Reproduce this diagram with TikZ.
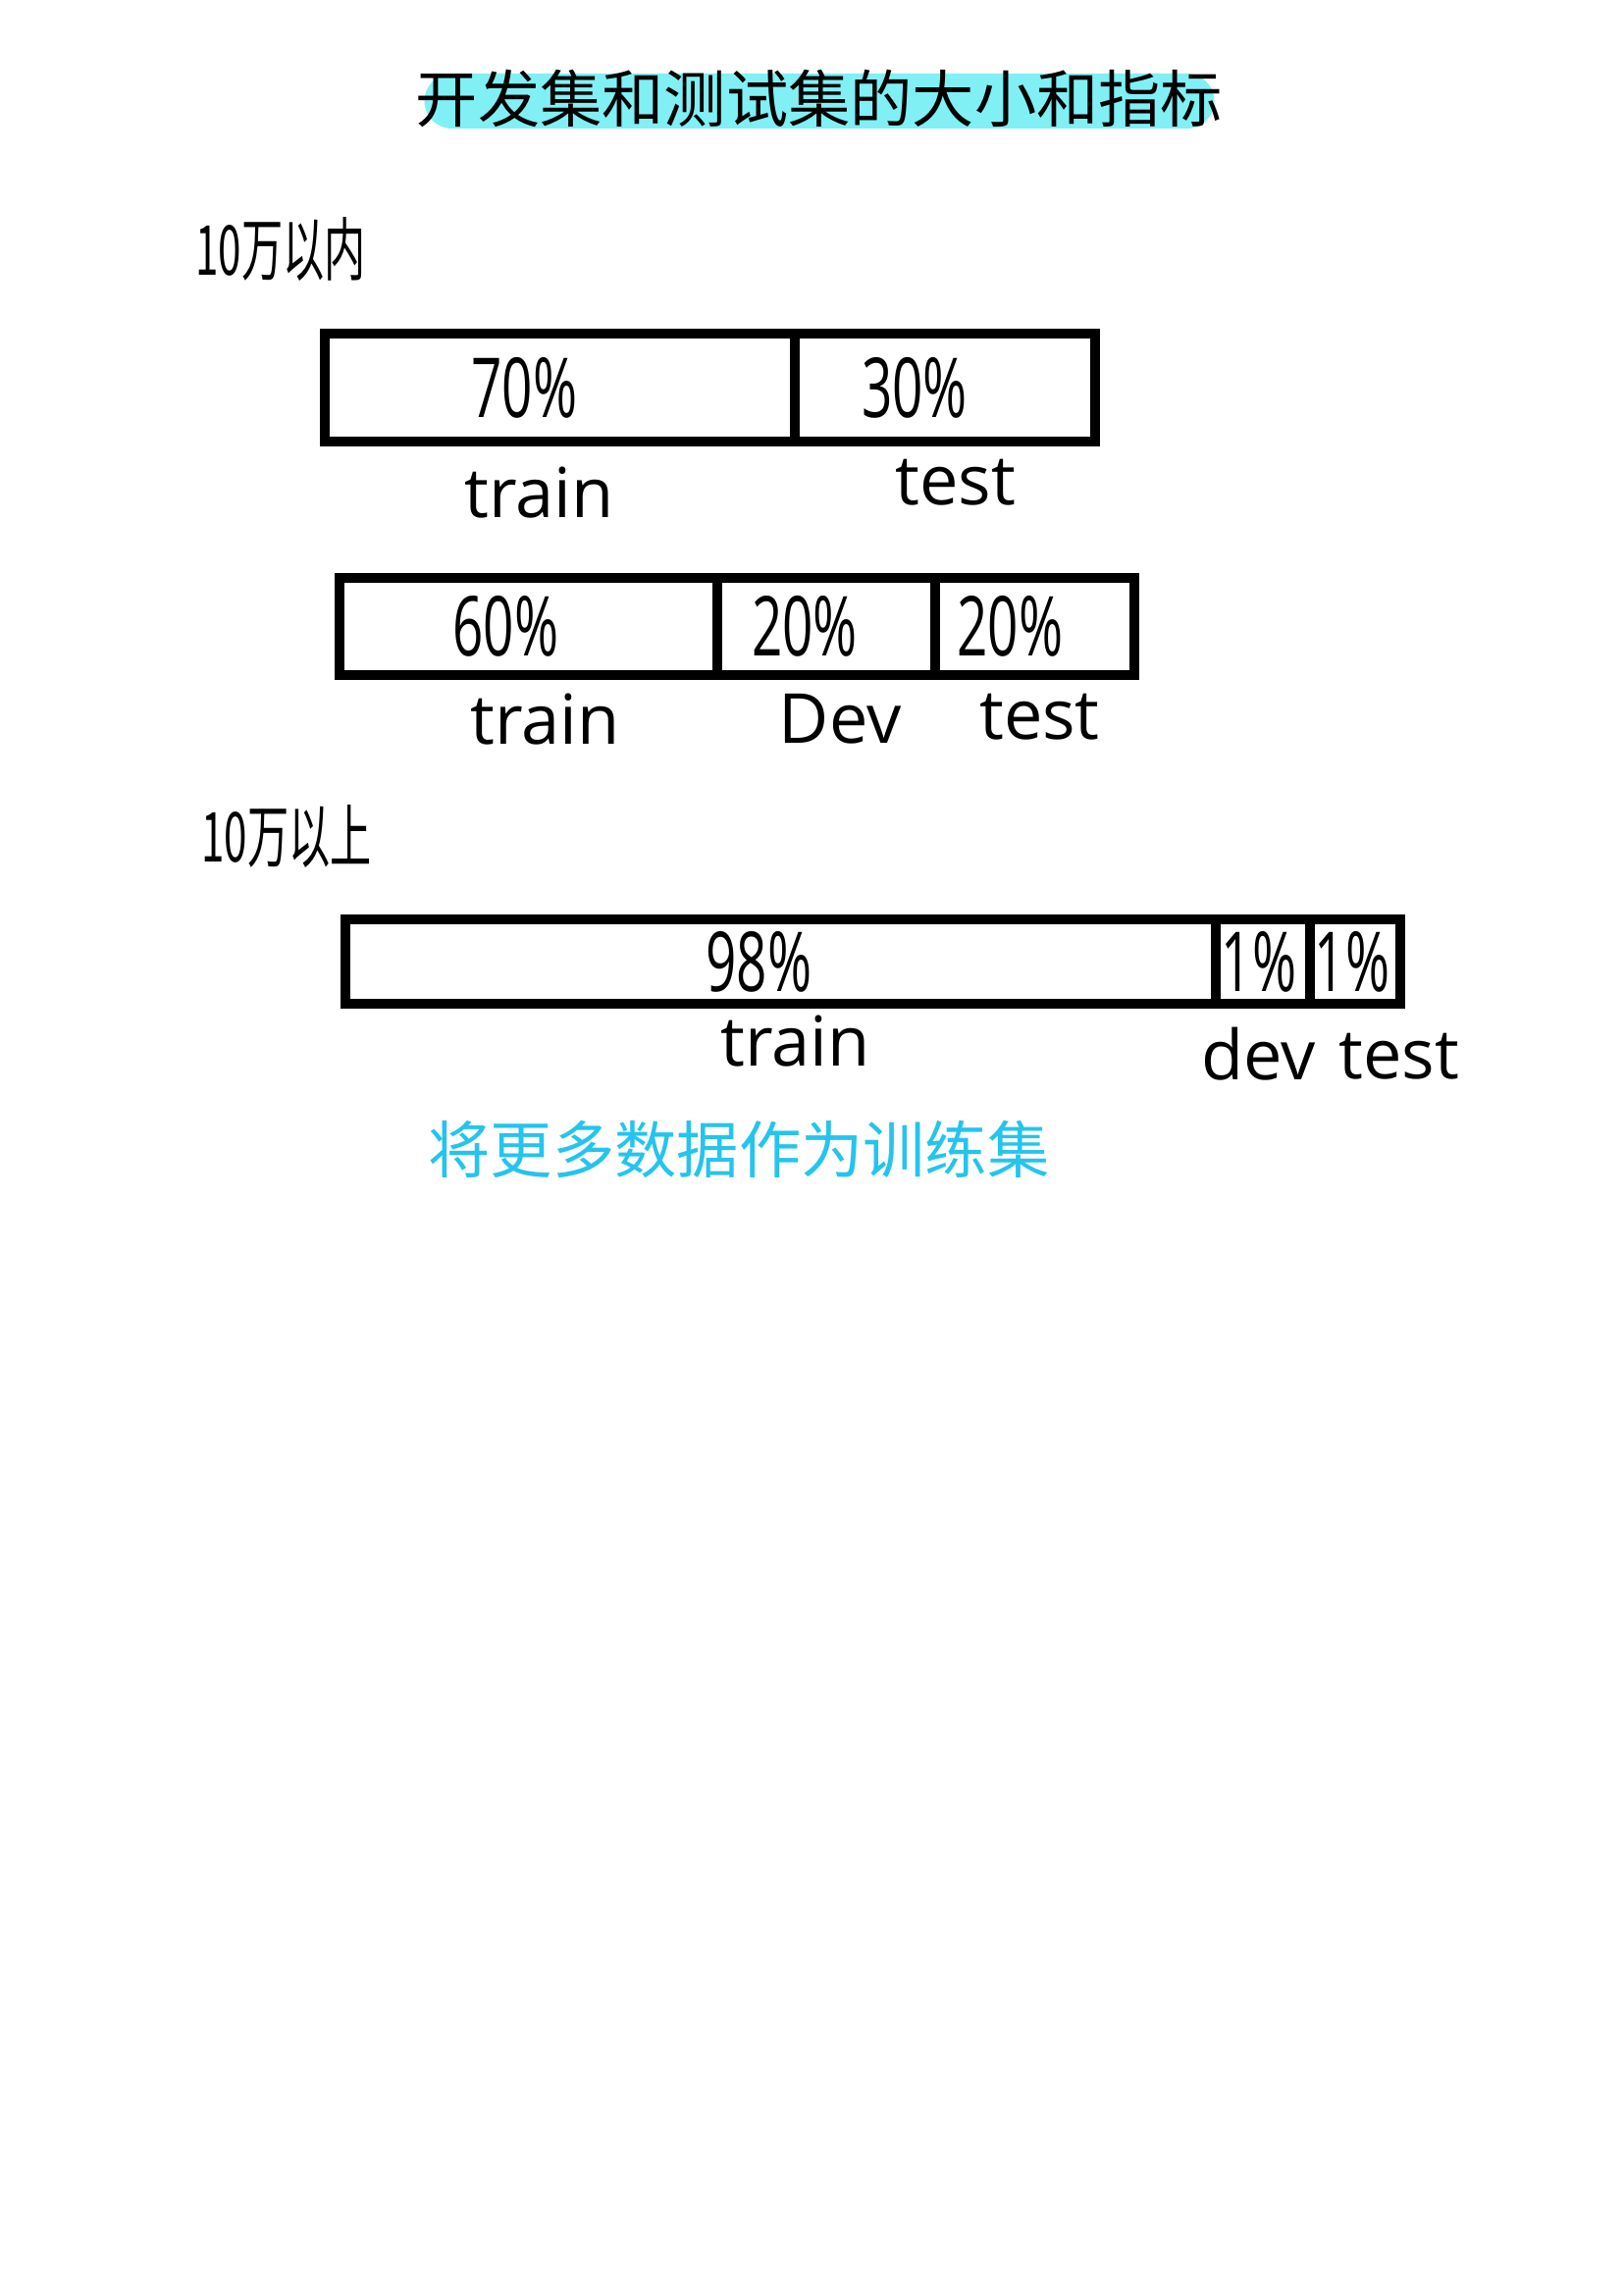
\documentclass[tikz,border=0pt]{standalone}
\usepackage{fontspec}
\setmainfont{Open Sans}
\newfontfamily\cjk{Noto Sans CJK SC}
\newfontfamily\cjknarrow[FakeStretch=0.6]{Noto Sans CJK SC}
\newfontfamily\pctfont[FakeStretch=0.65]{Open Sans}
\definecolor{HLCyan}{RGB}{128, 240, 244}
\definecolor{NoteBlue}{RGB}{36, 196, 238}
\usetikzlibrary{positioning}

\begin{document}
\begin{tikzpicture}[x=0.1mm, y=-0.1mm,
	seg/.style={draw, line width=3pt, inner sep=0pt, outer sep=0pt},
	pct/.style={font=\pctfont\fontsize{24}{26}\selectfont, inner sep=0pt},
	lbl/.style={font=\fontsize{20}{22}\selectfont, inner sep=1pt},
	hdr/.style={font=\cjknarrow\fontsize{20}{22}\selectfont},
	node distance=0pt]
	\useasboundingbox (0,0) rectangle (1654,2339);
	% title
	\node[fill=HLCyan, rounded corners=2.8mm, minimum width=80.5mm, minimum height=5.6mm] (band) at (835,103) {};
	\node[font=\cjk\fontsize{18}{20}\selectfont] (title) at (835,100) {开发集和测试集的大小和指标};
	% small data
	\node[hdr] (h1) at (286,254) {10万以内};
	\node[seg, anchor=north west, minimum width=47.9mm, minimum height=11mm] (a1) at (331,340) {};
	\node[seg, right=of a1, minimum width=30.6mm, minimum height=11mm] (a2) {};
	\node[pct, xshift=-3.6mm] (a1p) at (a1) {70\%};
	\node[pct, xshift=-3.1mm] (a2p) at (a2) {30\%};
	\node[lbl, below=2.2mm of a1, xshift=-2.1mm] (a1l) {train};
	\node[lbl, below=1.4mm of a2, xshift=1.1mm] (a2l) {test};
	\node[seg, anchor=north west, minimum width=38.5mm, minimum height=9.9mm] (b1) at (346,589) {};
	\node[seg, right=of b1, minimum width=22.2mm, minimum height=9.9mm] (b2) {};
	\node[seg, right=of b2, minimum width=20.3mm, minimum height=9.9mm] (b3) {};
	\node[pct, xshift=-2.3mm] (b1p) at (b1) {60\%};
	\node[pct, xshift=-2.2mm] (b2p) at (b2) {20\%};
	\node[pct, xshift=-2.5mm] (b3p) at (b3) {20\%};
	\node[lbl, below=1.5mm of b1, xshift=1.7mm] (b1l) {train};
	\node[lbl, below=1.5mm of b2, xshift=1.4mm] (b2l) {Dev};
	\node[lbl, below=1.5mm of b3, xshift=0.5mm] (b3l) {test};
	% big data
	\node[hdr] (h2) at (292,853) {10万以上};
	\node[seg, anchor=north west, minimum width=88.7mm, minimum height=8.6mm] (c1) at (352,937) {};
	\node[seg, right=of c1, minimum width=9.6mm, minimum height=8.6mm] (c2) {};
	\node[seg, right=of c2, minimum width=9.2mm, minimum height=8.6mm] (c3) {};
	\node[pct, xshift=-2.2mm] (c1p) at (c1) {98\%};
	\node[pct, xshift=-0.4mm] (c2p) at (c2) {1\%};
	\node[pct, xshift=-0.3mm] (c3p) at (c3) {1\%};
	\node[lbl, below=0.8mm of c1, xshift=1.5mm] (c1l) {train};
	\node[lbl, below=2mm of c2, xshift=-0.4mm] (c2l) {dev};
	\node[lbl, below=2.6mm of c3, xshift=4.5mm] (c3l) {test};
	\node[font=\cjk\fontsize{18}{20}\selectfont, text=NoteBlue] (note) at (753,1171) {将更多数据作为训练集};
\end{tikzpicture}
\end{document}
